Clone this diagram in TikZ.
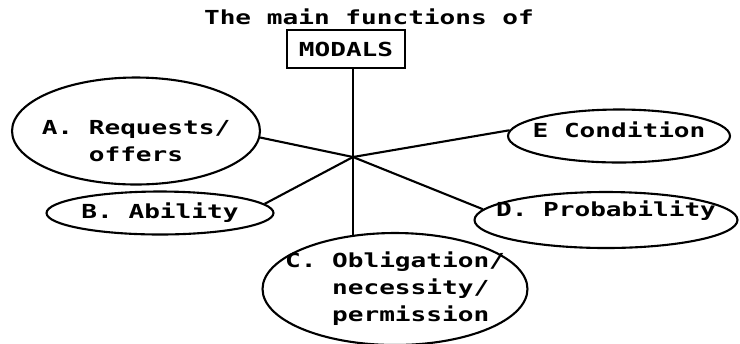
\documentclass[tikz,border=0pt]{standalone}
\usepackage{fontspec}
\usepackage{tikz}
\usetikzlibrary{shapes.geometric}
\newfontfamily\dotmatrix[FakeStretch=1.35]{DejaVu Sans Mono}

\begin{document}
\begin{tikzpicture}[
    x=0.02cm, y=-0.02cm,
    txt/.style={font={\dotmatrix\bfseries\fontsize{11}{15.4}\selectfont}},
    bubble/.style={ellipse, draw, line width=1.2pt, txt,
        inner xsep=-0.4cm, inner ysep=0pt, align=left},
    link/.style={line width=1.2pt}
]
\useasboundingbox (0,0) rectangle (740,343);

\node[txt] (title) at (369,17) {The main functions of};
\node[txt, draw, line width=1.2pt, minimum width=2.36cm, minimum height=0.76cm] (modals) at (346,49) {MODALS};

\coordinate (hub) at (353,157);

\node[bubble, minimum width=4.96cm, minimum height=2.14cm, text height=35.4pt] (req) at (136,131) {A. Requests/\\\hphantom{A. }offers};
\node[bubble, minimum width=4.54cm, minimum height=0.86cm] (abil) at (160,213) {B. Ability};
\node[bubble, minimum width=5.3cm, minimum height=2.24cm] (oblig) at (395,289) {C. Obligation/\\\hphantom{C. }necessity/\\\hphantom{C. }permission};
\node[bubble, minimum width=5.26cm, minimum height=1.12cm, text depth=12.5pt] (prob) at (606,220) {D. Probability};
\node[bubble, minimum width=4.44cm, minimum height=1.06cm, text depth=7pt] (cond) at (619,136) {E Condition};

\draw[link] (modals.south -| hub) -- (hub);
\draw[link] (hub) -- (req.-3);
\draw[link] (hub) -- (abil.5);
\draw[link] (hub) -- (hub |- oblig.128);
\draw[link] (hub) -- (prob.175);
\draw[link] (hub) -- (cond.177);
\end{tikzpicture}
\end{document}
